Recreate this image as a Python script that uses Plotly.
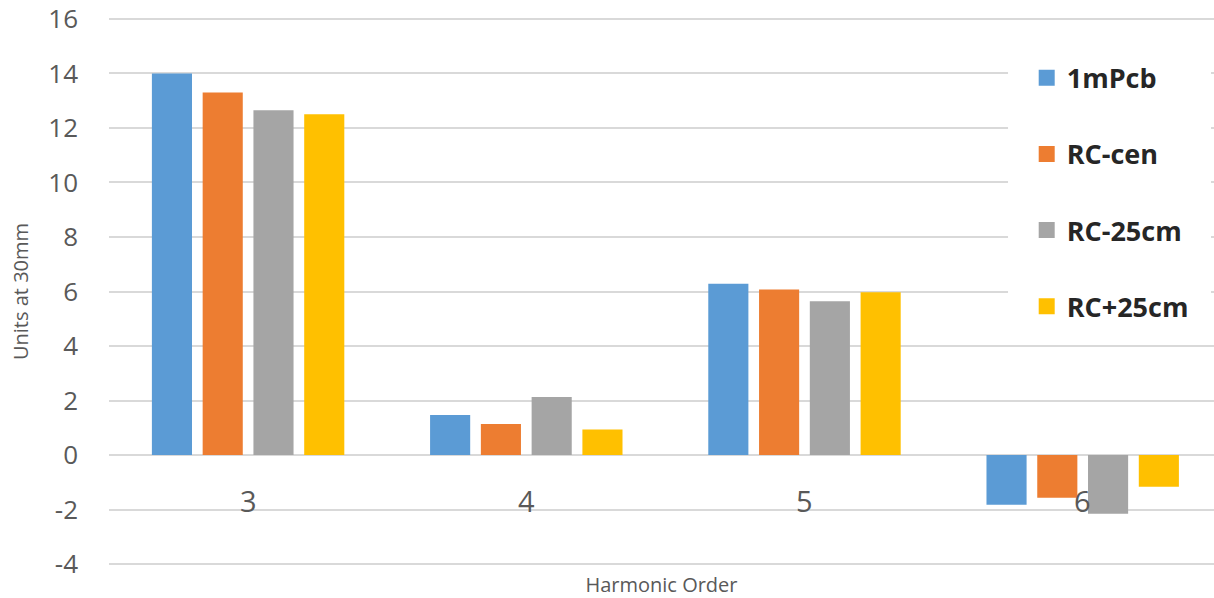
import plotly.graph_objects as go

# Harmonic order categories and the measured values per configuration
harmonics = ["3", "4", "5", "6"]
series_names = ["1mPcb", "RC-cen", "RC-25cm", "RC+25cm"]
vals_1mpcb = [14.0, 1.47, 6.28, -1.82]
vals_rc_cen = [13.3, 1.14, 6.07, -1.57]
vals_rc_m25 = [12.65, 2.13, 5.64, -2.15]
vals_rc_p25 = [12.5, 0.94, 5.97, -1.16]
y_ticks = [-4, -2, 0, 2, 4, 6, 8, 10, 12, 14, 16]
y_tick_text = ["-4", "-2", "0", "2", "4", "6", "8", "10", "12", "14", "16"]

colors = ["#5B9BD5", "#ED7D31", "#A5A5A5", "#FFC000"]
series_vals = [vals_1mpcb, vals_rc_cen, vals_rc_m25, vals_rc_p25]
xpos = list(range(len(harmonics)))

fig = go.Figure()
for name, vals, col in zip(series_names, series_vals, colors):
    fig.add_trace(go.Bar(
        x=xpos, y=vals, name=name, showlegend=False,
        marker=dict(color=col, line=dict(width=0)),
    ))

# legend entries with larger square swatches
for i, (name, col) in enumerate(zip(series_names, colors)):
    fig.add_trace(go.Scatter(
        x=[None], y=[None], mode="markers", name=name,
        legendgroup=f"g{i}",
        marker=dict(symbol="square", size=16, color=col, line=dict(width=0)),
    ))

# category labels sitting just below the zero line
for xi, lab in zip(xpos, harmonics):
    fig.add_annotation(
        x=xi, y=0, text=lab, showarrow=False, yanchor="middle",
        yshift=-45, font=dict(family="Open Sans", size=29, color="#595959"),
    )

# white panel behind the legend
fig.add_shape(
    type="rect", xref="paper", yref="paper",
    x0=0.8136, x1=0.9973, y0=0.43, y1=0.96,
    fillcolor="white", line=dict(width=0), layer="above",
)

fig.update_layout(
    width=1214, height=598,
    margin=dict(l=109, r=0, t=17, b=32),
    paper_bgcolor="white", plot_bgcolor="white",
    barmode="group", bargap=0.27, bargroupgap=0.21,
    font=dict(family="Open Sans", color="#595959"),
    legend=dict(
        x=0.8305, xanchor="left", y=0.933, yanchor="top",
        bgcolor="rgba(0,0,0,0)", traceorder="grouped", tracegroupgap=38,
        font=dict(family="Open Sans", size=27, color="#262626", weight="bold"),
    ),
    xaxis=dict(
        range=[-0.5, 3.472], showticklabels=False, showgrid=False,
        zeroline=False, showline=False, ticks="",
        title=dict(text="Harmonic Order", standoff=13,
                   font=dict(family="Open Sans", size=20, color="#595959")),
    ),
    yaxis=dict(
        range=[-4.07, 16.07], tickvals=y_ticks, ticktext=y_tick_text,
        showgrid=True, gridcolor="#D9D9D9", gridwidth=1.5,
        zeroline=True, zerolinecolor="#D9D9D9", zerolinewidth=1.5,
        showline=False, ticks="", ticklabelstandoff=30,
        ticklabeloverflow="allow", automargin=False,
        tickfont=dict(family="Open Sans", size=26, color="#595959"),
        title=dict(text="Units at 30mm", standoff=14,
                   font=dict(family="Open Sans", size=20, color="#595959")),
    ),
)

fig.write_html("out.html")
